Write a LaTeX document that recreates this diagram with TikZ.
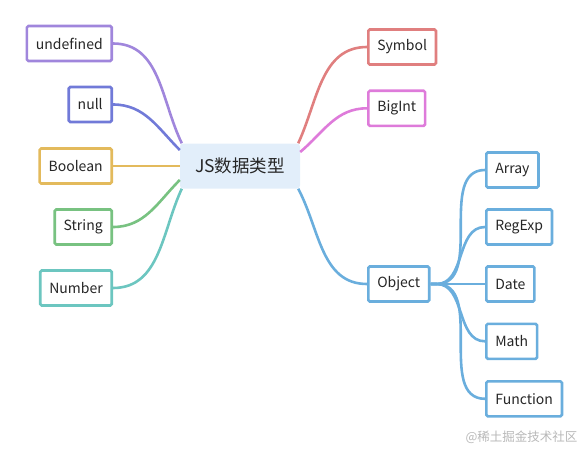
\documentclass[tikz,border=0pt]{standalone}
\usepackage{fontspec}
\setmainfont{Noto Sans CJK SC}
\usepackage{xcolor}
\usepackage{tikz}

\definecolor{cundef}{HTML}{A086DC}
\definecolor{cnull}{HTML}{717AD8}
\definecolor{cbool}{HTML}{E3BA5C}
\definecolor{cstr}{HTML}{78C281}
\definecolor{cnum}{HTML}{6CC6C0}
\definecolor{csym}{HTML}{E07F7F}
\definecolor{cbig}{HTML}{DE7BDA}
\definecolor{cobj}{HTML}{6AAEDD}
\definecolor{croot}{HTML}{E2EEFA}

\tikzset{
  leaf/.style={draw, line width=2.6pt, rounded corners=1.5pt, fill=white,
    inner xsep=9pt, minimum height=35pt, font=\fontsize{14}{16}\selectfont,
    text=black!85},
  root/.style={fill=croot, rounded corners=3pt, minimum width=120pt,
    minimum height=45pt, font=\fontsize{17.5}{20}\selectfont, text=black!85},
  branch/.style={line width=2.6pt}
}

\begin{document}
\begin{tikzpicture}[x=1pt,y=1pt]
\useasboundingbox (0,0) rectangle (585,448);

% 中心
\node[root] (js) at (240,282) {JS数据类型};

% 左侧
\node[leaf, draw=cundef, anchor=east] (undef) at (113,404.5) {undefined};
\node[leaf, draw=cnull, anchor=east] (null) at (113,343.5) {null};
\node[leaf, draw=cbool, anchor=east] (bool) at (113,282) {Boolean};
\node[leaf, draw=cstr, anchor=east] (str) at (113,221) {String};
\node[leaf, draw=cnum, anchor=east] (num) at (113,160) {Number};

% 右侧
\node[leaf, draw=csym, anchor=west] (sym) at (367,401) {Symbol};
\node[leaf, draw=cbig, anchor=west] (big) at (367,339.7) {BigInt};
\node[leaf, draw=cobj, anchor=west] (obj) at (367,164) {Object};

% Object 子节点
\node[leaf, draw=cobj, anchor=west] (arr) at (485,278) {Array};
\node[leaf, draw=cobj, anchor=west] (reg) at (485,221) {RegExp};
\node[leaf, draw=cobj, anchor=west] (date) at (485,164) {Date};
\node[leaf, draw=cobj, anchor=west] (math) at (485,106.7) {Math};
\node[leaf, draw=cobj, anchor=west] (func) at (485,49.2) {Function};

% 水印
\node[anchor=east, text=black!28, font=\fontsize{12.5}{14}\selectfont] (mark) at (581,11) {@稀土掘金技术社区};

% ========== 连线 ==========
% 左侧 -> 中心
\draw[branch, cundef] (undef.east) to[out=0,in=116] ([xshift=2pt]js.north west);
\draw[branch, cnull] (null.east) to[out=0,in=135] ([yshift=16pt]js.west);
\draw[branch, cbool] (bool.east) -- (js.west);
\draw[branch, cstr] (str.east) to[out=0,in=225] ([yshift=-14pt]js.west);
\draw[branch, cnum] (num.east) to[out=0,in=245] ([xshift=2pt]js.south west);

% 中心 -> 右侧
\draw[branch, csym] ([xshift=-2pt]js.north east) to[out=65,in=180] (sym.west);
\draw[branch, cbig] ([yshift=14pt]js.east) to[out=40,in=180] (big.west);
\draw[branch, cobj] ([xshift=-2pt]js.south east) to[out=-62,in=180] (obj.west);

% Object -> 子节点
\draw[branch, cobj] (obj.east) -- ++(6,0) to[out=0,in=180] (arr.west);
\draw[branch, cobj] (obj.east) -- ++(6,0) to[out=0,in=180] (reg.west);
\draw[branch, cobj] (obj.east) -- (date.west);
\draw[branch, cobj] (obj.east) -- ++(6,0) to[out=0,in=180] (math.west);
\draw[branch, cobj] (obj.east) -- ++(6,0) to[out=0,in=180] (func.west);
\end{tikzpicture}
\end{document}
